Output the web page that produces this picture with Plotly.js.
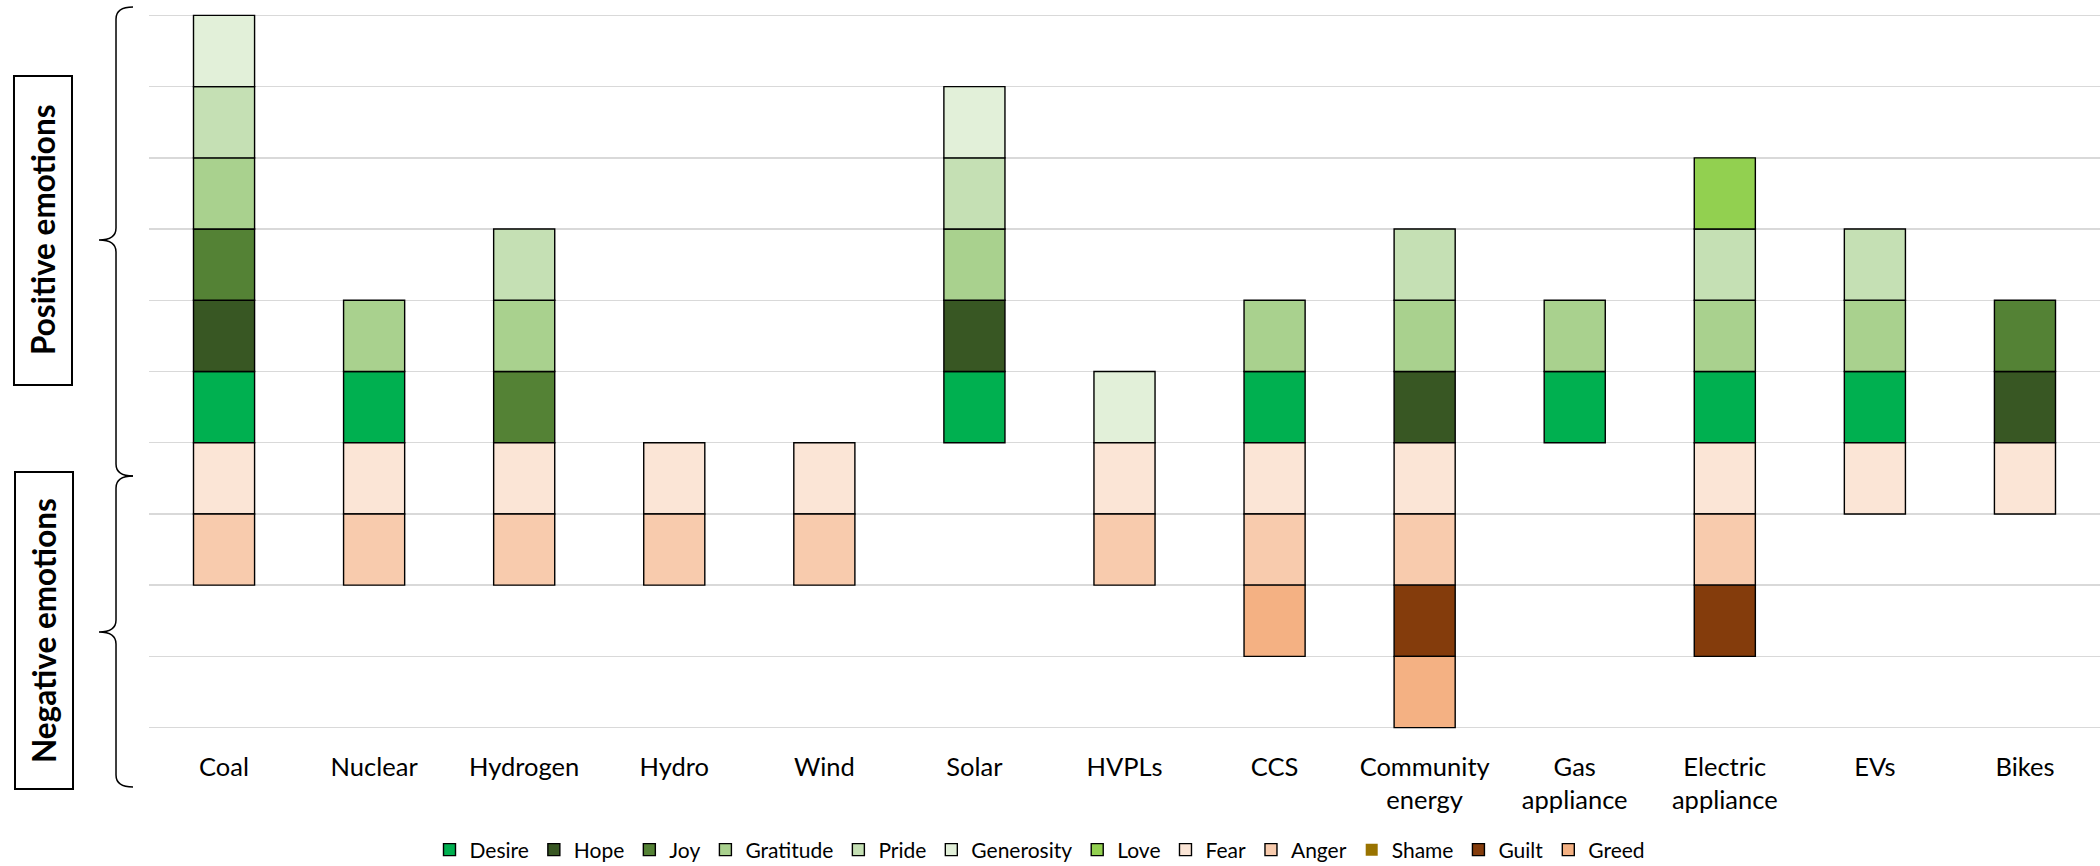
<!DOCTYPE html>
<html>
<head>
<meta charset="utf-8">
<script src="https://cdn.plot.ly/plotly-3.0.1.min.js"></script>
<style>html,body{margin:0;padding:0;background:#fff;}#chart{width:2100px;height:866px;}</style>
</head>
<body>
<div id="chart"></div>
<script>
// ---- data ----
const categories = ["Coal","Nuclear","Hydrogen","Hydro","Wind","Solar","HVPLs","CCS","Community<br>energy","Gas<br>appliance","Electric<br>appliance","EVs","Bikes"];
const desire     = [1,1,0,0,0,1,0,1,0,1,1,1,0];
const hope       = [1,0,0,0,0,1,0,0,1,0,0,0,1];
const joy        = [1,0,1,0,0,0,0,0,0,0,0,0,1];
const gratitude  = [1,1,1,0,0,1,0,1,1,1,1,1,0];
const pride      = [1,0,1,0,0,1,0,0,1,0,1,1,0];
const generosity = [1,0,0,0,0,1,1,0,0,0,0,0,0];
const love       = [0,0,0,0,0,0,0,0,0,0,1,0,0];
const fear       = [-1,-1,-1,-1,-1,0,-1,-1,-1,0,-1,-1,-1];
const anger      = [-1,-1,-1,-1,-1,0,-1,-1,-1,0,-1,0,0];
const shame      = [0,0,0,0,0,0,0,0,0,0,0,0,0];
const guilt      = [0,0,0,0,0,0,0,0,-1,0,-1,0,0];
const greed      = [0,0,0,0,0,0,0,-1,-1,0,0,0,0];

const seriesNames = ["Desire","Hope","Joy","Gratitude","Pride","Generosity","Love","Fear","Anger","Shame","Guilt","Greed"];
const seriesVals  = [desire,hope,joy,gratitude,pride,generosity,love,fear,anger,shame,guilt,greed];
const seriesColors = ["#00B050","#385723","#548235","#A9D18E","#C5E0B4","#E2F0D9","#92D050","#FBE5D6","#F8CBAD","#997300","#843C0C","#F4B183"];

const FONT = "Lato, 'Liberation Sans', sans-serif";

const traces = seriesNames.map((name, i) => ({
  type: "bar",
  name: name,
  x: categories,
  y: seriesVals[i].map(v => v === 0 ? null : v),
  marker: {
    color: seriesColors[i],
    line: {color: "#000000", width: name === "Shame" ? 0 : 1.4}
  },
  hoverinfo: "skip"
}));

// ---- geometry helpers for decorations (pixels -> paper) ----
const L = 149, R = 0, T = 14, B = 137;
const W = 2100 - L - R, H = 866 - T - B;
const px = x => ((x - L) / W).toFixed(5);
const py = y => ((866 - B - y) / H).toFixed(5);
function brace(top, tip, bottom, xv, xend, xtip) {
  const r = 12;
  return `M ${px(xend)},${py(top)} Q ${px(xv)},${py(top)} ${px(xv)},${py(top + r)} ` +
         `L ${px(xv)},${py(tip - r)} Q ${px(xv)},${py(tip)} ${px(xtip)},${py(tip)} ` +
         `Q ${px(xv)},${py(tip)} ${px(xv)},${py(tip + r)} ` +
         `L ${px(xv)},${py(bottom - r)} Q ${px(xv)},${py(bottom)} ${px(xend)},${py(bottom)}`;
}

const shapes = [
  {type:"path", xref:"paper", yref:"paper", path: brace(7, 240, 476, 116, 133, 99), line:{color:"#000", width:1.5}},
  {type:"path", xref:"paper", yref:"paper", path: brace(476, 632, 787, 116, 133, 99), line:{color:"#000", width:1.5}},
  {type:"rect", xref:"paper", yref:"paper", x0:px(14), x1:px(72), y0:py(76), y1:py(385), line:{color:"#000", width:2}},
  {type:"rect", xref:"paper", yref:"paper", x0:px(15), x1:px(73), y0:py(472), y1:py(789), line:{color:"#000", width:2}}
];

const annotations = [
  {xref:"paper", yref:"paper", x:px(43), y:py(230), text:"<b>Positive emotions</b>", showarrow:false, textangle:-90,
   xanchor:"center", yanchor:"middle", font:{family:FONT, size:31.5, color:"#000"}},
  {xref:"paper", yref:"paper", x:px(44), y:py(630), text:"<b>Negative emotions</b>", showarrow:false, textangle:-90,
   xanchor:"center", yanchor:"middle", font:{family:FONT, size:31.5, color:"#000"}}
];

const layout = {
  width: 2100, height: 866,
  margin: {l:L, r:R, t:T, b:B, pad:0, autoexpand:false},
  paper_bgcolor: "#ffffff", plot_bgcolor: "#ffffff",
  barmode: "relative",
  bargap: 0.593,
  showlegend: true,
  legend: {orientation:"h", traceorder:"normal",
           xref:"container", x: 1040 / 2100, xanchor:"center",
           yref:"container", y: 1 - 850 / 866, yanchor:"middle",
           font:{family:FONT, size:21, color:"#000"}, itemclick:false, itemdoubleclick:false},
  xaxis: {type:"category", showgrid:false, showline:false, zeroline:false, ticks:"",
          ticklabelstandoff: 20,
          tickfont:{family:FONT, size:25.5, color:"#000"}, fixedrange:true, range:[-0.5, 12.5]},
  yaxis: {range:[-4.02, 6.02], dtick:1, tick0:0, showticklabels:false, ticks:"", showgrid:true,
          gridcolor:"#d9d9d9", gridwidth:1.5, zeroline:true, zerolinecolor:"#d9d9d9", zerolinewidth:1.5,
          showline:false, fixedrange:true},
  shapes: shapes,
  annotations: annotations,
  font: {family: FONT}
};

Plotly.newPlot("chart", traces, layout, {displayModeBar:false, staticPlot:true});
</script>
</body>
</html>
